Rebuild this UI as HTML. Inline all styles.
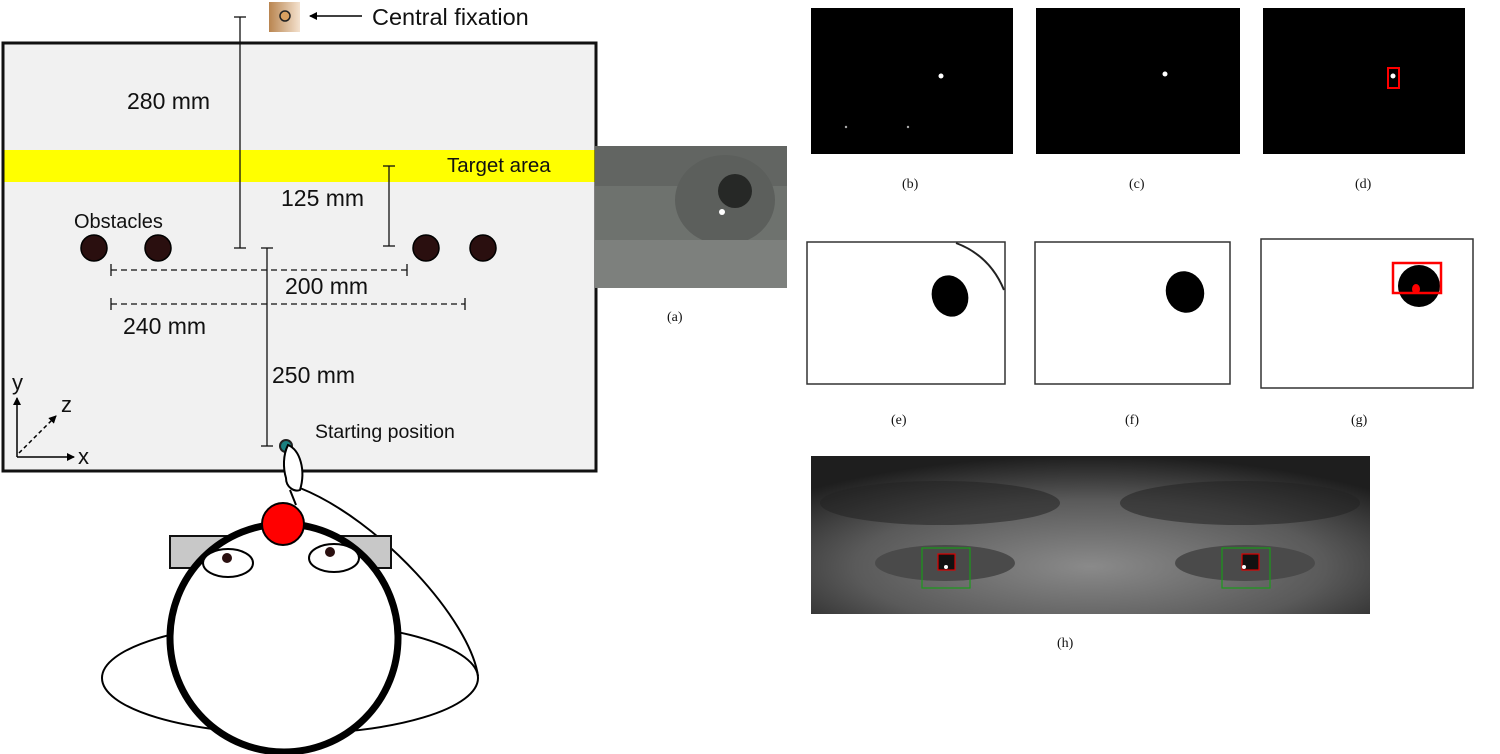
<!DOCTYPE html>
<html><head><meta charset="utf-8"><style>
body{margin:0;background:#fff;width:1500px;height:754px;overflow:hidden}
svg{display:block}
text{font-family:"Liberation Sans",sans-serif;fill:#111}
.s{font-family:"Liberation Serif",serif;font-size:14px}
</style></head><body>
<svg width="1500" height="754" viewBox="0 0 1500 754">
<defs>
<linearGradient id="br" x1="0" x2="1"><stop offset="0" stop-color="#b98550"/><stop offset="1" stop-color="#f4e2cf"/></linearGradient>
<radialGradient id="face" cx="0.5" cy="0.7" r="0.7"><stop offset="0" stop-color="#8a8a8a"/><stop offset="0.6" stop-color="#5a5a5a"/><stop offset="1" stop-color="#1e1e1e"/></radialGradient>
<clipPath id="ca"><rect x="595" y="146" width="192" height="142"/></clipPath>
<marker id="ar" markerWidth="8" markerHeight="8" refX="7" refY="4" orient="auto" markerUnits="userSpaceOnUse"><path d="M0,0 L8,4 L0,8z" fill="#000"/></marker>
</defs>
<rect x="3" y="43" width="593" height="428" fill="#f1f1f1" stroke="#111" stroke-width="3"/>
<rect x="4.5" y="150" width="590" height="32" fill="#ffff00"/>
<text x="447" y="172" font-size="20.5">Target area</text>
<rect x="269" y="2" width="31" height="30" fill="url(#br)"/>
<circle cx="285" cy="16" r="5" fill="#d9a060" stroke="#222" stroke-width="1.5"/>
<line x1="362" y1="16" x2="310" y2="16" stroke="#000" stroke-width="1.5" marker-end="url(#ar)"/>
<text x="372" y="25" font-size="23.5">Central fixation</text>
<g stroke="#111" stroke-width="1.3" fill="none">
<line x1="240" y1="17" x2="240" y2="248"/><line x1="234" y1="17" x2="246" y2="17"/><line x1="234" y1="248" x2="246" y2="248"/>
<line x1="389" y1="166" x2="389" y2="246"/><line x1="383" y1="166" x2="395" y2="166"/><line x1="383" y1="246" x2="395" y2="246"/>
<line x1="267" y1="248" x2="267" y2="446"/><line x1="261" y1="248" x2="273" y2="248"/><line x1="261" y1="446" x2="273" y2="446"/>
<line x1="111" y1="270" x2="407" y2="270" stroke-dasharray="6,4"/><line x1="111" y1="264" x2="111" y2="276"/><line x1="407" y1="264" x2="407" y2="276"/>
<line x1="111" y1="304" x2="465" y2="304" stroke-dasharray="6,4"/><line x1="111" y1="298" x2="111" y2="310"/><line x1="465" y1="298" x2="465" y2="310"/>
</g>
<text x="127" y="109" font-size="23">280 mm</text>
<text x="281" y="206" font-size="23">125 mm</text>
<text x="285" y="294" font-size="23">200 mm</text>
<text x="123" y="334" font-size="23">240 mm</text>
<text x="272" y="383" font-size="23">250 mm</text>
<text x="74" y="228" font-size="20">Obstacles</text>
<text x="315" y="438" font-size="19.5">Starting position</text>
<g fill="#2a0f0f" stroke="#000" stroke-width="1.5">
<circle cx="94" cy="248" r="13"/><circle cx="158" cy="248" r="13"/><circle cx="426" cy="248" r="13"/><circle cx="483" cy="248" r="13"/>
</g>
<g stroke="#000" stroke-width="1.5" fill="none">
<line x1="17" y1="457" x2="17" y2="398" marker-end="url(#ar)"/>
<line x1="17" y1="457" x2="74" y2="457" marker-end="url(#ar)"/>
<line x1="19" y1="453" x2="56" y2="416" stroke-dasharray="4,3" marker-end="url(#ar)"/>
</g>
<text x="12" y="390" font-size="22">y</text>
<text x="61" y="412" font-size="22">z</text>
<text x="78" y="464" font-size="22">x</text>
<ellipse cx="290" cy="678" rx="188" ry="56" fill="#fff" stroke="#000" stroke-width="2"/>
<path d="M300,488 C380,520 470,620 478,676" fill="none" stroke="#000" stroke-width="2"/>
<rect x="170" y="536" width="221" height="32" fill="#c8c8c8" stroke="#111" stroke-width="2"/>
<circle cx="284" cy="638" r="114" fill="#fff" stroke="#000" stroke-width="7"/>
<ellipse cx="228" cy="563" rx="25" ry="14" fill="#fff" stroke="#000" stroke-width="2"/>
<ellipse cx="334" cy="558" rx="25" ry="14" fill="#fff" stroke="#000" stroke-width="2"/>
<circle cx="227" cy="558" r="5" fill="#2a0f0f"/><circle cx="330" cy="552" r="5" fill="#2a0f0f"/>
<path d="M290,490 L296,505" stroke="#000" stroke-width="2"/>
<circle cx="283" cy="524" r="21" fill="#ff0000" stroke="#000" stroke-width="2"/>
<circle cx="286" cy="446" r="6" fill="#1a8080" stroke="#222" stroke-width="2"/>
<path d="M288,445 C300,450 306,470 300,490 C295,492 286,488 286,478 C283,468 283,455 288,445z" fill="#fff" stroke="#000" stroke-width="2"/>
<g clip-path="url(#ca)">
<rect x="595" y="146" width="192" height="142" fill="#6e726e"/>
<rect x="595" y="146" width="192" height="40" fill="#5a5e5a" opacity="0.6"/>
<ellipse cx="725" cy="200" rx="50" ry="45" fill="#5c5f5c"/>
<rect x="595" y="240" width="192" height="48" fill="#7d807d"/>
<circle cx="735" cy="191" r="17" fill="#262826"/>
<circle cx="722" cy="212" r="3" fill="#fff"/>
</g>
<text class="s" x="667" y="321">(a)</text>
<rect x="811" y="8" width="202" height="146" fill="#000"/>
<circle cx="941" cy="76" r="2.5" fill="#fff"/><circle cx="846" cy="127" r="1.2" fill="#aaa"/><circle cx="908" cy="127" r="1.2" fill="#aaa"/>
<rect x="1036" y="8" width="204" height="146" fill="#000"/>
<circle cx="1165" cy="74" r="2.5" fill="#fff"/>
<rect x="1263" y="8" width="202" height="146" fill="#000"/>
<circle cx="1393" cy="76" r="2.5" fill="#fff"/>
<rect x="1388" y="68" width="11" height="20" fill="none" stroke="#f00" stroke-width="2"/>
<text class="s" x="902" y="188">(b)</text>
<text class="s" x="1129" y="188">(c)</text>
<text class="s" x="1355" y="188">(d)</text>
<rect x="807" y="242" width="198" height="142" fill="#fff" stroke="#333" stroke-width="1.5"/>
<ellipse cx="950" cy="296" rx="18" ry="21" fill="#000" transform="rotate(-20 950 296)"/>
<path d="M956,243 C980,252 995,268 1004,290" fill="none" stroke="#222" stroke-width="2"/>
<rect x="1035" y="242" width="195" height="142" fill="#fff" stroke="#333" stroke-width="1.5"/>
<ellipse cx="1185" cy="292" rx="19" ry="21" fill="#000" transform="rotate(-20 1185 292)"/>
<rect x="1261" y="239" width="212" height="149" fill="#fff" stroke="#333" stroke-width="1.5"/>
<circle cx="1419" cy="286" r="21" fill="#000"/>
<rect x="1393" y="263" width="48" height="30" fill="none" stroke="#f00" stroke-width="2.5"/>
<ellipse cx="1416" cy="289" rx="4" ry="5" fill="#f00"/>
<text class="s" x="891" y="424">(e)</text>
<text class="s" x="1125" y="424">(f)</text>
<text class="s" x="1351" y="424">(g)</text>
<rect x="811" y="456" width="559" height="158" fill="url(#face)"/>
<ellipse cx="940" cy="503" rx="120" ry="22" fill="#222" opacity="0.55"/>
<ellipse cx="1240" cy="503" rx="120" ry="22" fill="#222" opacity="0.55"/>
<ellipse cx="945" cy="563" rx="70" ry="18" fill="#4a4a4a"/>
<ellipse cx="1245" cy="563" rx="70" ry="18" fill="#4a4a4a"/>
<rect x="922" y="548" width="48" height="40" fill="none" stroke="#1a9a1a" stroke-width="1.2"/>
<rect x="1222" y="548" width="48" height="40" fill="none" stroke="#1a9a1a" stroke-width="1.2"/>
<rect x="938" y="554" width="17" height="16" fill="#111" stroke="#d00" stroke-width="1.2"/>
<rect x="1242" y="554" width="17" height="16" fill="#111" stroke="#d00" stroke-width="1.2"/>
<circle cx="946" cy="567" r="2" fill="#fff"/><circle cx="1244" cy="567" r="2" fill="#fff"/>
<text class="s" x="1057" y="647">(h)</text>
</svg>
</body></html>
